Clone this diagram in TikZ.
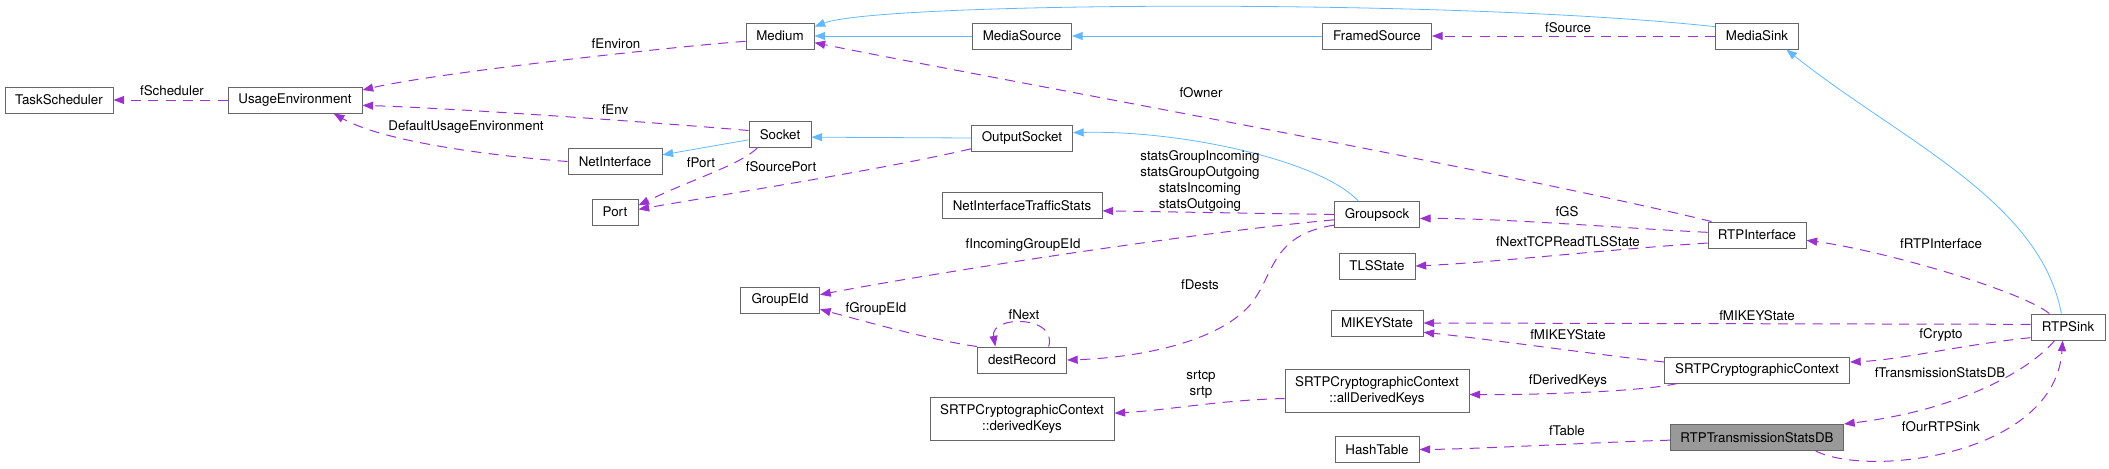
\documentclass[tikz,border=0pt]{standalone}
\usepackage{fontspec}
\setmainfont{TeX Gyre Heros}
\usetikzlibrary{arrows.meta}
\definecolor{boxgray}{HTML}{666666}
\definecolor{selgray}{HTML}{999999}
\definecolor{usecol}{HTML}{9A32CD}
\definecolor{inhcol}{HTML}{63B8FF}
\tikzset{
  cls/.style={draw=boxgray, line width=0.75pt, fill=white, inner sep=0pt,
    minimum height=19.5pt, align=center, font=\fontsize{10}{12}\selectfont},
  cls2/.style={cls, minimum height=32.25pt},
  lbl/.style={inner sep=0pt, align=center, font=\fontsize{10}{12}\selectfont},
  use/.style={draw=usecol, line width=0.75pt, dash pattern=on 7.5pt off 5.5pt,
    -{Triangle[length=8pt,width=6pt]}},
  inh/.style={draw=inhcol, line width=0.6pt, -{Triangle[length=8pt,width=6pt]}}
}
\begin{document}
\begin{tikzpicture}[x=0.75pt,y=-0.75pt]
    \useasboundingbox (0,0) rectangle (2109,468);

    \node[cls, minimum width=81pt] (TaskSched) at (59,100) {TaskScheduler};
    \node[cls, minimum width=100.5pt] (UsageEnv) at (295,100) {UsageEnvironment};
    \node[cls, minimum width=51pt] (Medium) at (780,36) {Medium};
    \node[cls, minimum width=74.25pt] (MediaSrc) at (1022,36) {MediaSource};
    \node[cls, minimum width=81.75pt] (FramedSrc) at (1377,36) {FramedSource};
    \node[cls, minimum width=62.25pt] (MediaSink) at (1757,36) {MediaSink};
    \node[cls, minimum width=46.5pt] (Socket) at (780,134.5) {Socket};
    \node[cls, minimum width=70.5pt] (NetIf) at (615,161.5) {NetInterface};
    \node[cls, minimum width=75.75pt] (OutSock) at (1022,138) {OutputSocket};
    \node[cls, minimum width=34.5pt] (Port) at (615,212) {Port};
    \node[cls, minimum width=120pt] (NetIfStats) at (1022,205.5) {NetInterfaceTrafficStats};
    \node[cls, minimum width=63.75pt] (Groupsock) at (1377,214.5) {Groupsock};
    \node[cls, minimum width=57pt] (TLSState) at (1377,266) {TLSState};
    \node[cls, minimum width=73.5pt] (RTPIf) at (1757,235) {RTPInterface};
    \node[cls, minimum width=59.25pt] (GroupEId) at (780,300) {GroupEId};
    \node[cls, minimum width=66.75pt] (destRec) at (1022,360) {destRecord};
    \node[cls, minimum width=69pt] (MIKEYState) at (1377,323) {MIKEYState};
    \node[cls, minimum width=55.5pt] (RTPSink) at (2068,327) {RTPSink};
    \node[cls, minimum width=138.75pt] (SRTPCtx) at (1757,370) {SRTPCryptographicContext};
    \node[cls2, minimum width=138pt] (allKeys) at (1377,390.5) {SRTPCryptographicContext\\::allDerivedKeys};
    \node[cls2, minimum width=138pt] (derKeys) at (1022,418.5) {SRTPCryptographicContext\\::derivedKeys};
    \node[cls, minimum width=63pt] (HashTable) at (1377,449.5) {HashTable};
    \node[cls, fill=selgray, minimum width=129.75pt] (StatsDB) at (1757,437.5) {RTPTransmissionStatsDB};

    \draw[inh] (MediaSrc.west) -- (Medium.east);
    \draw[inh] (FramedSrc.west) -- (MediaSrc.east);
    \draw[inh] ([yshift=7pt]MediaSink.west) .. controls (1450,-2) and (880,2) .. ([yshift=7pt]Medium.east);
    \draw[inh] (OutSock.west) -- ([yshift=-2pt]Socket.east);
    \draw[inh] ([yshift=-4pt]Socket.west) -- ([yshift=5pt]NetIf.east);
    \draw[inh] ([xshift=-14pt]Groupsock.north) .. controls (1320,160) and (1180,130) .. ([yshift=4pt]OutSock.east);
    \draw[inh] ([xshift=-5pt]RTPSink.north) .. controls (2040,200) and (1900,140) .. ([xshift=22pt]MediaSink.south);

    \draw[use] (UsageEnv.west) -- (TaskSched.east);
    \draw[use] ([yshift=-4pt]Medium.west) .. controls (690,45) and (440,72) .. ([yshift=7.5pt]UsageEnv.east);
    \draw[use] ([yshift=3pt]Socket.west) .. controls (650,122) and (450,108) .. ([yshift=-4pt]UsageEnv.east);
    \draw[use] (NetIf.west) .. controls (480,155) and (380,140) .. ([xshift=29pt]UsageEnv.south);
    \draw[use] ([xshift=-17pt]Socket.south) .. controls (740,165) and (690,180) .. ([yshift=5pt]Port.east);
    \draw[use] ([yshift=2pt]OutSock.south west) .. controls (880,170) and (720,195) .. ([yshift=2pt]Port.east);
    \draw[use] (MediaSink.west) -- (FramedSrc.east);
    \draw[use] ([xshift=3pt]RTPIf.north west) .. controls (1500,170) and (1000,80) .. ([yshift=-5pt]Medium.east);
    \draw[use] (Groupsock.west) -- ([yshift=-4pt]NetIfStats.east);
    \draw[use] ([yshift=-4pt]Groupsock.west) .. controls (1200,232) and (950,270) .. ([yshift=4pt]GroupEId.east);
    \draw[use] ([yshift=-8pt]Groupsock.west) .. controls (1270,235) and (1275,275) .. (1250,305)
      .. controls (1215,345) and (1130,358) .. (destRec.east);
    \draw[use] (destRec.north west) .. controls (930,340) and (860,320) .. ([yshift=-7pt]GroupEId.east);
    \draw[use] ([xshift=20pt]destRec.north) .. controls (1058,315) and (990,315) .. ([xshift=-20pt]destRec.north);
    \draw[use] ([yshift=2pt]RTPIf.west) .. controls (1620,228) and (1500,218) .. ([yshift=-3pt]Groupsock.east);
    \draw[use] ([yshift=-6pt]RTPIf.west) .. controls (1600,250) and (1500,262) .. (TLSState.east);
    \draw[use] ([xshift=-14pt]RTPSink.north) .. controls (2020,290) and (1880,250) .. ([yshift=-4pt]RTPIf.east);
    \draw[use] ([yshift=2pt]RTPSink.west) -- (MIKEYState.east);
    \draw[use] ([yshift=6pt]SRTPCtx.west) .. controls (1600,355) and (1480,338) .. ([yshift=-7pt]MIKEYState.east);
    \draw[use] ([yshift=-8pt]RTPSink.west) .. controls (1960,345) and (1900,360) .. ([yshift=6pt]SRTPCtx.east);
    \draw[use] ([xshift=10pt]SRTPCtx.south west) .. controls (1640,392) and (1530,395) .. ([yshift=-3pt]allKeys.east);
    \draw[use] ([yshift=-6pt]allKeys.west) .. controls (1220,400) and (1170,410) .. ([yshift=4pt]derKeys.east);
    \draw[use] ([xshift=-10pt]RTPSink.south) .. controls (2030,370) and (1960,410) .. (StatsDB.north east);
    \draw[use] ([xshift=44pt]StatsDB.south) .. controls (1870,478) and (2055,455) .. ([xshift=-4pt]RTPSink.south);
    \draw[use] ([yshift=-2pt]StatsDB.west) .. controls (1600,442) and (1480,449) .. (HashTable.east);

    \node[lbl] (lbSched) at (172,91) {fScheduler};
    \node[lbl] (lbEnviron) at (616,44) {fEnviron};
    \node[lbl] (lbEnv) at (615,110) {fEnv};
    \node[lbl] (lbDefEnv) at (466,127) {DefaultUsageEnvironment};
    \node[lbl] (lbPort) at (701,163) {fPort};
    \node[lbl] (lbSrcPort) at (781,167) {fSourcePort};
    \node[lbl] (lbSource) at (1568,28) {fSource};
    \node[lbl] (lbOwner) at (1201,93) {fOwner};
    \node[lbl] (lbStats) at (1200,181) {statsGroupIncoming\\statsGroupOutgoing\\statsIncoming\\statsOutgoing};
    \node[lbl] (lbInGroup) at (1023,245) {fIncomingGroupEId};
    \node[lbl] (lbDests) at (1200,285) {fDests};
    \node[lbl] (lbGroupEId) at (876,309) {fGroupEId};
    \node[lbl] (lbNext) at (1024,315) {fNext};
    \node[lbl] (lbGS) at (1567,212) {fGS};
    \node[lbl] (lbTLS) at (1568,242) {fNextTCPReadTLSState};
    \node[lbl] (lbRTPIf) at (1941,244) {fRTPInterface};
    \node[lbl] (lbMikeyA) at (1757,316) {fMIKEYState};
    \node[lbl] (lbMikeyB) at (1568,335) {fMIKEYState};
    \node[lbl] (lbCrypto) at (1941,335) {fCrypto};
    \node[lbl] (lbDerKeys) at (1568,381) {fDerivedKeys};
    \node[lbl] (lbSrtp) at (1201,384) {srtcp\\srtp};
    \node[lbl] (lbStatsDB) at (1940,373) {fTransmissionStatsDB};
    \node[lbl] (lbOurSink) at (1941,427) {fOurRTPSink};
    \node[lbl] (lbTable) at (1567,431) {fTable};
  \end{tikzpicture}
\end{document}
